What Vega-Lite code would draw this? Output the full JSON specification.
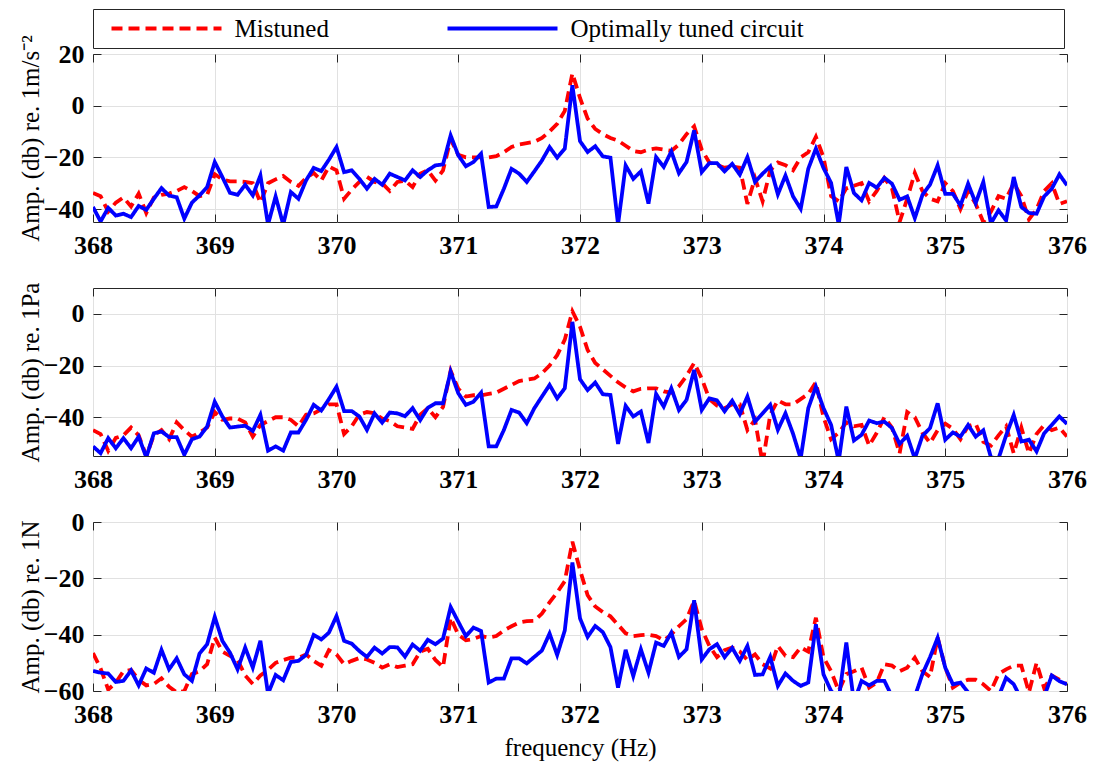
{
  "$schema": "https://vega.github.io/schema/vega-lite/v6.json",
  "background": "white",
  "padding": {"left": 17, "top": 8, "right": 10, "bottom": 10},
  "config": {
    "font": "Liberation Serif",
    "view": {"stroke": "#262626", "strokeWidth": 1},
    "style": {
      "guide-label": {"font": "Liberation Serif", "fontSize": 26, "fontWeight": "bold", "fill": "#000000"},
      "guide-title": {"font": "Liberation Serif", "fontSize": 25, "fontWeight": "normal", "fill": "#000000"}
    },
    "axis": {
      "labelFont": "Liberation Serif", "labelFontSize": 26, "labelFontWeight": "bold", "labelColor": "#000000",
      "titleFont": "Liberation Serif", "titleFontSize": 25, "titleFontWeight": "normal", "titleColor": "#000000",
      "gridColor": "#e1e1e1", "gridWidth": 1,
      "tickColor": "#262626", "tickWidth": 1, "tickSize": -8,
      "domain": false, "labelFlush": false, "labelOverlap": false
    },
    "line": {"strokeWidth": 3.8}
  },
  "datasets": {
    "accel": [
      {"f":368,"m":-33.8,"o":-39.2},{"f":368.0625,"m":-35,"o":-44.8},{"f":368.125,"m":-41,"o":-39.5},{"f":368.1875,"m":-37.5,"o":-42.5},
      {"f":368.25,"m":-35.5,"o":-41.8},{"f":368.3125,"m":-39,"o":-43.1},{"f":368.375,"m":-34,"o":-38.8},{"f":368.4375,"m":-41.5,"o":-40.3},
      {"f":368.5,"m":-35.5,"o":-36},{"f":368.5625,"m":-34.5,"o":-31.9},{"f":368.625,"m":-34,"o":-34.8},{"f":368.6875,"m":-33,"o":-35.4},
      {"f":368.75,"m":-31.5,"o":-43.7},{"f":368.8125,"m":-33,"o":-37.5},{"f":368.875,"m":-35,"o":-34.7},{"f":368.9375,"m":-34.5,"o":-31.5},
      {"f":369,"m":-26.5,"o":-21.8},{"f":369.0625,"m":-28.5,"o":-27.6},{"f":369.125,"m":-29.3,"o":-33.7},{"f":369.1875,"m":-29.3,"o":-34.5},
      {"f":369.25,"m":-29.5,"o":-30.6},{"f":369.3125,"m":-30,"o":-34.7},{"f":369.375,"m":-37.5,"o":-27},{"f":369.4375,"m":-30,"o":-46},
      {"f":369.5,"m":-28.5,"o":-35.1},{"f":369.5625,"m":-27.2,"o":-46},{"f":369.625,"m":-29.5,"o":-33.4},{"f":369.6875,"m":-31,"o":-36},
      {"f":369.75,"m":-28,"o":-28.9},{"f":369.8125,"m":-26,"o":-24.1},{"f":369.875,"m":-29,"o":-25.3},{"f":369.9375,"m":-23.5,"o":-20.9},
      {"f":370,"m":-25,"o":-16},{"f":370.0625,"m":-36,"o":-25.7},{"f":370.125,"m":-32.5,"o":-25},{"f":370.1875,"m":-29.5,"o":-28.3},
      {"f":370.25,"m":-27.5,"o":-32.1},{"f":370.3125,"m":-29.5,"o":-28.3},{"f":370.375,"m":-30,"o":-30.6},{"f":370.4375,"m":-33,"o":-26.3},
      {"f":370.5,"m":-29.5,"o":-27.6},{"f":370.5625,"m":-29,"o":-28.9},{"f":370.625,"m":-31.5,"o":-25},{"f":370.6875,"m":-26.3,"o":-27.6},
      {"f":370.75,"m":-25,"o":-25},{"f":370.8125,"m":-29,"o":-23.1},{"f":370.875,"m":-25,"o":-22.7},{"f":370.9375,"m":-13,"o":-11.5},
      {"f":371,"m":-19,"o":-19.2},{"f":371.0625,"m":-20,"o":-23.4},{"f":371.125,"m":-20,"o":-21.8},{"f":371.1875,"m":-20,"o":-18.6},
      {"f":371.25,"m":-20,"o":-39.2},{"f":371.3125,"m":-19.5,"o":-39},{"f":371.375,"m":-18,"o":-32.1},{"f":371.4375,"m":-16,"o":-24.4},
      {"f":371.5,"m":-15,"o":-26.3},{"f":371.5625,"m":-14.5,"o":-29.5},{"f":371.625,"m":-14,"o":-25.4},{"f":371.6875,"m":-12.5,"o":-21.2},
      {"f":371.75,"m":-10,"o":-16},{"f":371.8125,"m":-7,"o":-20.1},{"f":371.875,"m":-2,"o":-16.6},{"f":371.9375,"m":12.5,"o":7.9},
      {"f":372,"m":3,"o":-13.7},{"f":372.0625,"m":-5,"o":-17.9},{"f":372.125,"m":-9,"o":-15.7},{"f":372.1875,"m":-11,"o":-19.6},
      {"f":372.25,"m":-12.5,"o":-20.1},{"f":372.3125,"m":-13.5,"o":-46},{"f":372.375,"m":-15.5,"o":-23.1},{"f":372.4375,"m":-17.5,"o":-28.3},
      {"f":372.5,"m":-18,"o":-25.4},{"f":372.5625,"m":-17,"o":-37.9},{"f":372.625,"m":-16.5,"o":-19.9},{"f":372.6875,"m":-17,"o":-23.7},
      {"f":372.75,"m":-17.5,"o":-17.7},{"f":372.8125,"m":-15,"o":-26.1},{"f":372.875,"m":-11,"o":-21.8},{"f":372.9375,"m":-8,"o":-9.5},
      {"f":373,"m":-17,"o":-25.7},{"f":373.0625,"m":-22,"o":-22.2},{"f":373.125,"m":-23,"o":-22.2},{"f":373.1875,"m":-24,"o":-25.4},
      {"f":373.25,"m":-23.5,"o":-22.5},{"f":373.3125,"m":-24,"o":-26.7},{"f":373.375,"m":-38,"o":-19.9},{"f":373.4375,"m":-28,"o":-29.5},
      {"f":373.5,"m":-37,"o":-26.3},{"f":373.5625,"m":-25,"o":-23.5},{"f":373.625,"m":-22,"o":-34.3},{"f":373.6875,"m":-23,"o":-27},
      {"f":373.75,"m":-25,"o":-35.1},{"f":373.8125,"m":-20,"o":-39.9},{"f":373.875,"m":-18,"o":-24.4},{"f":373.9375,"m":-12,"o":-16.6},
      {"f":374,"m":-20,"o":-24.1},{"f":374.0625,"m":-35,"o":-29.9},{"f":374.125,"m":-37,"o":-46},{"f":374.1875,"m":-32,"o":-23.7},
      {"f":374.25,"m":-31,"o":-33.8},{"f":374.3125,"m":-30,"o":-36.6},{"f":374.375,"m":-37,"o":-29.9},{"f":374.4375,"m":-33,"o":-31.7},
      {"f":374.5,"m":-28,"o":-27.9},{"f":374.5625,"m":-32,"o":-30.2},{"f":374.625,"m":-45,"o":-36.4},{"f":374.6875,"m":-36,"o":-35.1},
      {"f":374.75,"m":-26,"o":-43.5},{"f":374.8125,"m":-33,"o":-34.5},{"f":374.875,"m":-36,"o":-30.5},{"f":374.9375,"m":-37,"o":-23.1},
      {"f":375,"m":-30,"o":-34.1},{"f":375.0625,"m":-33,"o":-34.1},{"f":375.125,"m":-40,"o":-38.6},{"f":375.1875,"m":-33,"o":-30.2},
      {"f":375.25,"m":-38,"o":-37.7},{"f":375.3125,"m":-45,"o":-29.5},{"f":375.375,"m":-41,"o":-45.5},{"f":375.4375,"m":-35,"o":-40.5},
      {"f":375.5,"m":-36,"o":-44.4},{"f":375.5625,"m":-30,"o":-27.6},{"f":375.625,"m":-35,"o":-39.2},{"f":375.6875,"m":-44,"o":-41.5},
      {"f":375.75,"m":-40,"o":-41.8},{"f":375.8125,"m":-33,"o":-35.1},{"f":375.875,"m":-30,"o":-32.1},{"f":375.9375,"m":-38,"o":-26.6},
      {"f":376,"m":-37,"o":-30.8}
    ],
    "pressure": [
      {"f":368,"m":-45,"o":-51.3},{"f":368.0625,"m":-46.5,"o":-53.9},{"f":368.125,"m":-53,"o":-48.1},{"f":368.1875,"m":-48,"o":-52},
      {"f":368.25,"m":-47,"o":-48.1},{"f":368.3125,"m":-44,"o":-52},{"f":368.375,"m":-47,"o":-47.5},{"f":368.4375,"m":-55,"o":-55.5},
      {"f":368.5,"m":-47,"o":-46.2},{"f":368.5625,"m":-45,"o":-45.5},{"f":368.625,"m":-48.5,"o":-47.7},{"f":368.6875,"m":-42,"o":-47.7},
      {"f":368.75,"m":-45,"o":-54.5},{"f":368.8125,"m":-47.5,"o":-48.5},{"f":368.875,"m":-46,"o":-47.5},{"f":368.9375,"m":-44,"o":-43.6},
      {"f":369,"m":-38,"o":-34},{"f":369.0625,"m":-41,"o":-39.7},{"f":369.125,"m":-40.5,"o":-44},{"f":369.1875,"m":-40.5,"o":-43.6},
      {"f":369.25,"m":-42,"o":-43.3},{"f":369.3125,"m":-47.5,"o":-45.3},{"f":369.375,"m":-43,"o":-39.1},{"f":369.4375,"m":-41.5,"o":-52.9},
      {"f":369.5,"m":-40,"o":-51.3},{"f":369.5625,"m":-40,"o":-52.9},{"f":369.625,"m":-41,"o":-45.9},{"f":369.6875,"m":-43.5,"o":-45.9},
      {"f":369.75,"m":-39,"o":-41},{"f":369.8125,"m":-38.5,"o":-35.2},{"f":369.875,"m":-37,"o":-37.4},{"f":369.9375,"m":-35,"o":-33},
      {"f":370,"m":-35,"o":-28.2},{"f":370.0625,"m":-46.5,"o":-37.6},{"f":370.125,"m":-43.5,"o":-37.6},{"f":370.1875,"m":-39,"o":-39.7},
      {"f":370.25,"m":-38,"o":-44.9},{"f":370.3125,"m":-38.5,"o":-38.5},{"f":370.375,"m":-40.5,"o":-42.1},{"f":370.4375,"m":-41.5,"o":-38.2},
      {"f":370.5,"m":-43.5,"o":-38.5},{"f":370.5625,"m":-44,"o":-39.6},{"f":370.625,"m":-44.5,"o":-36.5},{"f":370.6875,"m":-39,"o":-41.1},
      {"f":370.75,"m":-36.5,"o":-36.4},{"f":370.8125,"m":-40,"o":-34.6},{"f":370.875,"m":-36,"o":-34.6},{"f":370.9375,"m":-22,"o":-22.4},
      {"f":371,"m":-29,"o":-30.7},{"f":371.0625,"m":-32,"o":-35.2},{"f":371.125,"m":-31.5,"o":-34},{"f":371.1875,"m":-31.5,"o":-30.5},
      {"f":371.25,"m":-31,"o":-51.3},{"f":371.3125,"m":-30.5,"o":-51.3},{"f":371.375,"m":-29,"o":-44.9},{"f":371.4375,"m":-27.5,"o":-37.2},
      {"f":371.5,"m":-26,"o":-38.2},{"f":371.5625,"m":-25.5,"o":-42.3},{"f":371.625,"m":-25,"o":-36.5},{"f":371.6875,"m":-23,"o":-32},
      {"f":371.75,"m":-20,"o":-27.5},{"f":371.8125,"m":-16,"o":-32.7},{"f":371.875,"m":-10,"o":-28.8},{"f":371.9375,"m":1,"o":-3.1},
      {"f":372,"m":-5,"o":-25.3},{"f":372.0625,"m":-14,"o":-29.5},{"f":372.125,"m":-19,"o":-26.6},{"f":372.1875,"m":-21.5,"o":-31.1},
      {"f":372.25,"m":-24,"o":-31.4},{"f":372.3125,"m":-26.5,"o":-50.3},{"f":372.375,"m":-28.5,"o":-35.6},{"f":372.4375,"m":-30,"o":-39.7},
      {"f":372.5,"m":-29,"o":-37.8},{"f":372.5625,"m":-28.8,"o":-50},{"f":372.625,"m":-28.8,"o":-31},{"f":372.6875,"m":-30,"o":-35.9},
      {"f":372.75,"m":-30.5,"o":-28.8},{"f":372.8125,"m":-28,"o":-37.2},{"f":372.875,"m":-24,"o":-33.3},{"f":372.9375,"m":-19,"o":-21.7},
      {"f":373,"m":-25,"o":-37.2},{"f":373.0625,"m":-33,"o":-32.7},{"f":373.125,"m":-35.5,"o":-33.5},{"f":373.1875,"m":-36.5,"o":-37.7},
      {"f":373.25,"m":-35,"o":-33.6},{"f":373.3125,"m":-35,"o":-38.8},{"f":373.375,"m":-45,"o":-32},{"f":373.4375,"m":-41,"o":-41.7},
      {"f":373.5,"m":-58,"o":-38.5},{"f":373.5625,"m":-39,"o":-35.2},{"f":373.625,"m":-33.5,"o":-44.9},{"f":373.6875,"m":-35,"o":-38.5},
      {"f":373.75,"m":-35,"o":-46.4},{"f":373.8125,"m":-33,"o":-56},{"f":373.875,"m":-31,"o":-36.5},{"f":373.9375,"m":-26.5,"o":-28.2},
      {"f":374,"m":-40,"o":-36.5},{"f":374.0625,"m":-48.5,"o":-43},{"f":374.125,"m":-46,"o":-57},{"f":374.1875,"m":-42,"o":-35.9},
      {"f":374.25,"m":-43.5,"o":-49},{"f":374.3125,"m":-43,"o":-46.8},{"f":374.375,"m":-51,"o":-41.3},{"f":374.4375,"m":-46,"o":-42.3},
      {"f":374.5,"m":-40,"o":-41.7},{"f":374.5625,"m":-44,"o":-44.2},{"f":374.625,"m":-54,"o":-50.3},{"f":374.6875,"m":-38,"o":-47.2},
      {"f":374.75,"m":-40,"o":-56},{"f":374.8125,"m":-46,"o":-47.2},{"f":374.875,"m":-50,"o":-44.2},{"f":374.9375,"m":-45,"o":-34.6},
      {"f":375,"m":-42.5,"o":-48.7},{"f":375.0625,"m":-44.5,"o":-45.9},{"f":375.125,"m":-48.5,"o":-47.5},{"f":375.1875,"m":-43.5,"o":-43},
      {"f":375.25,"m":-42.5,"o":-47.5},{"f":375.3125,"m":-49.5,"o":-45.1},{"f":375.375,"m":-51,"o":-55.5},{"f":375.4375,"m":-47,"o":-56},
      {"f":375.5,"m":-43.5,"o":-47},{"f":375.5625,"m":-54,"o":-39.1},{"f":375.625,"m":-44,"o":-49.4},{"f":375.6875,"m":-54,"o":-48.7},
      {"f":375.75,"m":-46.5,"o":-53.2},{"f":375.8125,"m":-43,"o":-46.2},{"f":375.875,"m":-45,"o":-43},{"f":375.9375,"m":-44,"o":-39.7},
      {"f":376,"m":-47.5,"o":-42.6}
    ],
    "force": [
      {"f":368,"m":-46.5,"o":-52.9},{"f":368.0625,"m":-52,"o":-53.5},{"f":368.125,"m":-59.5,"o":-53.8},{"f":368.1875,"m":-57,"o":-56.8},
      {"f":368.25,"m":-53,"o":-56.4},{"f":368.3125,"m":-52.5,"o":-52.7},{"f":368.375,"m":-56,"o":-58},{"f":368.4375,"m":-58,"o":-52},
      {"f":368.5,"m":-57.5,"o":-53.5},{"f":368.5625,"m":-55.5,"o":-45.4},{"f":368.625,"m":-58.5,"o":-52.3},{"f":368.6875,"m":-60.5,"o":-48.4},
      {"f":368.75,"m":-60,"o":-54.1},{"f":368.8125,"m":-54,"o":-56.4},{"f":368.875,"m":-53,"o":-46.7},{"f":368.9375,"m":-50.5,"o":-43.4},
      {"f":369,"m":-41,"o":-33.7},{"f":369.0625,"m":-46,"o":-42.2},{"f":369.125,"m":-47.5,"o":-46.4},{"f":369.1875,"m":-49,"o":-52.3},
      {"f":369.25,"m":-54.5,"o":-44.6},{"f":369.3125,"m":-57.5,"o":-51.7},{"f":369.375,"m":-54.5,"o":-42.2},{"f":369.4375,"m":-52.5,"o":-61},
      {"f":369.5,"m":-50,"o":-54.3},{"f":369.5625,"m":-49,"o":-56.2},{"f":369.625,"m":-48.2,"o":-49.7},{"f":369.6875,"m":-48.2,"o":-49.3},
      {"f":369.75,"m":-47,"o":-47.2},{"f":369.8125,"m":-49.3,"o":-40.1},{"f":369.875,"m":-51,"o":-41.7},{"f":369.9375,"m":-45.5,"o":-39.3},
      {"f":370,"m":-47,"o":-33.4},{"f":370.0625,"m":-50.5,"o":-42.2},{"f":370.125,"m":-49.3,"o":-43.2},{"f":370.1875,"m":-48.3,"o":-45.8},
      {"f":370.25,"m":-48.8,"o":-47.9},{"f":370.3125,"m":-50,"o":-44.6},{"f":370.375,"m":-51.7,"o":-46.7},{"f":370.4375,"m":-50.5,"o":-44.4},
      {"f":370.5,"m":-51.5,"o":-44.5},{"f":370.5625,"m":-51,"o":-47.8},{"f":370.625,"m":-50.5,"o":-43.5},{"f":370.6875,"m":-46,"o":-45.7},
      {"f":370.75,"m":-45,"o":-41.8},{"f":370.8125,"m":-49,"o":-43.4},{"f":370.875,"m":-51.5,"o":-41.4},{"f":370.9375,"m":-34,"o":-30.2},
      {"f":371,"m":-40,"o":-35.4},{"f":371.0625,"m":-42,"o":-40.5},{"f":371.125,"m":-41.5,"o":-37.5},{"f":371.1875,"m":-40.5,"o":-38.7},
      {"f":371.25,"m":-41,"o":-57},{"f":371.3125,"m":-40.5,"o":-55.6},{"f":371.375,"m":-38.5,"o":-55.6},{"f":371.4375,"m":-37,"o":-48.4},
      {"f":371.5,"m":-35.7,"o":-48.4},{"f":371.5625,"m":-35.2,"o":-50.2},{"f":371.625,"m":-35.1,"o":-47.9},{"f":371.6875,"m":-32.5,"o":-45.6},
      {"f":371.75,"m":-28.5,"o":-39.6},{"f":371.8125,"m":-25,"o":-47.2},{"f":371.875,"m":-21,"o":-38.5},{"f":371.9375,"m":-7,"o":-14.4},
      {"f":372,"m":-17,"o":-34.2},{"f":372.0625,"m":-26,"o":-40.8},{"f":372.125,"m":-30,"o":-36.9},{"f":372.1875,"m":-32,"o":-39.1},
      {"f":372.25,"m":-33.5,"o":-44.4},{"f":372.3125,"m":-36.5,"o":-58.8},{"f":372.375,"m":-39.5,"o":-45.4},{"f":372.4375,"m":-40.5,"o":-54.7},
      {"f":372.5,"m":-40.2,"o":-45.2},{"f":372.5625,"m":-40,"o":-53.5},{"f":372.625,"m":-40.5,"o":-42.8},{"f":372.6875,"m":-42,"o":-44},
      {"f":372.75,"m":-40,"o":-39.3},{"f":372.8125,"m":-37,"o":-47.9},{"f":372.875,"m":-34.5,"o":-45.2},{"f":372.9375,"m":-28,"o":-27.8},
      {"f":373,"m":-38,"o":-48.8},{"f":373.0625,"m":-44,"o":-45.2},{"f":373.125,"m":-48,"o":-43.4},{"f":373.1875,"m":-45.5,"o":-48},
      {"f":373.25,"m":-44.6,"o":-44.7},{"f":373.3125,"m":-46,"o":-49.3},{"f":373.375,"m":-49,"o":-44},{"f":373.4375,"m":-47,"o":-54.3},
      {"f":373.5,"m":-50.5,"o":-54.1},{"f":373.5625,"m":-52,"o":-47.9},{"f":373.625,"m":-44,"o":-58.2},{"f":373.6875,"m":-47.5,"o":-53.8},
      {"f":373.75,"m":-48,"o":-56.4},{"f":373.8125,"m":-44.5,"o":-58.2},{"f":373.875,"m":-46,"o":-57},{"f":373.9375,"m":-34,"o":-36.3},
      {"f":374,"m":-48,"o":-54.1},{"f":374.0625,"m":-53,"o":-60},{"f":374.125,"m":-60,"o":-63},{"f":374.1875,"m":-54,"o":-42.8},
      {"f":374.25,"m":-53,"o":-64},{"f":374.3125,"m":-51.7,"o":-56.4},{"f":374.375,"m":-58.8,"o":-58},{"f":374.4375,"m":-57,"o":-56.4},
      {"f":374.5,"m":-50.5,"o":-56.4},{"f":374.5625,"m":-51,"o":-62},{"f":374.625,"m":-53,"o":-64},{"f":374.6875,"m":-51.7,"o":-65},
      {"f":374.75,"m":-48.2,"o":-62},{"f":374.8125,"m":-53,"o":-54},{"f":374.875,"m":-55,"o":-48},{"f":374.9375,"m":-41,"o":-41.1},
      {"f":375,"m":-51.7,"o":-51.7},{"f":375.0625,"m":-58.8,"o":-57.6},{"f":375.125,"m":-57,"o":-57},{"f":375.1875,"m":-56,"o":-60.5},
      {"f":375.25,"m":-56,"o":-61.5},{"f":375.3125,"m":-57.6,"o":-62},{"f":375.375,"m":-60,"o":-63},{"f":375.4375,"m":-54,"o":-62},
      {"f":375.5,"m":-52.3,"o":-55.3},{"f":375.5625,"m":-51,"o":-57.6},{"f":375.625,"m":-51,"o":-63},{"f":375.6875,"m":-60.5,"o":-63},
      {"f":375.75,"m":-50,"o":-64},{"f":375.8125,"m":-59,"o":-62},{"f":375.875,"m":-54.5,"o":-54.5},{"f":375.9375,"m":-56,"o":-56.5},
      {"f":376,"m":-57.6,"o":-57.6}
    ]
  },
  "bounds": "flush",
  "spacing": 66,
  "resolve": {
    "scale": {"color": "independent", "strokeDash": "independent"},
    "legend": {"color": "independent", "strokeDash": "independent"}
  },
  "vconcat": [
    {
      "width": 974, "height": 168,
      "data": {"name": "accel"},
      "transform": [{"fold": ["m", "o"], "as": ["series", "amp"]}],
      "layer": [
        {
          "transform": [{"filter": "datum.series == 'm'"}],
          "mark": {"type": "line", "clip": true},
          "encoding": {
            "x": {"field": "f", "type": "quantitative", "scale": {"domain": [368, 376], "nice": false, "zero": false},
                  "axis": {"orient": "bottom", "values": [368, 369, 370, 371, 372, 373, 374, 375, 376], "format": "d", "grid": true, "labelPadding": 18, "title": null,
                           "labelFont": "Liberation Serif", "labelFontSize": 26, "labelFontWeight": "bold"}},
            "y": {"field": "amp", "type": "quantitative", "scale": {"domain": [-45, 20], "nice": false, "zero": false},
                  "axis": {"orient": "left", "values": [-40, -20, 0, 20], "grid": true, "labelPadding": 17, "titlePadding": 0, "title": "Amp. (db) re. 1m/s⁻²",
                           "labelFont": "Liberation Serif", "labelFontSize": 26, "labelFontWeight": "bold"}},
            "color": {"field": "series", "type": "nominal", "scale": {"domain": ["m", "o"], "range": ["#ff0000", "#0000ff"]},
                      "legend": {"orient": "none", "legendX": 0, "legendY": -45, "direction": "horizontal", "title": " ", "titleOrient": "right", "titlePadding": 254,
                                 "padding": 6.5, "strokeColor": "#262626", "fillColor": "white", "symbolType": "M-5,0H5", "symbolSize": 484, "symbolStrokeWidth": 3.8,
                                 "symbolOffset": 54, "labelOffset": 55, "labelFont": "Liberation Serif", "labelFontSize": 25, "labelFontWeight": "normal", "labelColor": "#000000", "labelLimit": 400,
                                 "columnPadding": 106, "labelExpr": "datum.value == 'm' ? 'Mistuned' : 'Optimally tuned circuit'"}},
            "strokeDash": {"field": "series", "type": "nominal", "scale": {"domain": ["m", "o"], "range": [[11, 6], [1, 0]]},
                      "legend": {"orient": "none", "legendX": 0, "legendY": -45, "direction": "horizontal", "title": " ", "titleOrient": "right", "titlePadding": 254,
                                 "padding": 6.5, "strokeColor": "#262626", "fillColor": "white", "symbolType": "M-5,0H5", "symbolSize": 484, "symbolStrokeWidth": 3.8,
                                 "symbolOffset": 54, "labelOffset": 55, "labelFont": "Liberation Serif", "labelFontSize": 25, "labelFontWeight": "normal", "labelColor": "#000000", "labelLimit": 400,
                                 "columnPadding": 106, "labelExpr": "datum.value == 'm' ? 'Mistuned' : 'Optimally tuned circuit'"}}
          }
        },
        {
          "transform": [{"filter": "datum.series == 'o'"}],
          "mark": {"type": "line", "clip": true},
          "encoding": {
            "x": {"field": "f", "type": "quantitative",
                  "axis": {"orient": "top", "values": [368, 369, 370, 371, 372, 373, 374, 375, 376], "labels": false, "grid": false, "title": null, "minExtent": 0}},
            "y": {"field": "amp", "type": "quantitative",
                  "axis": {"orient": "right", "values": [-40, -20, 0, 20], "labels": false, "grid": false, "title": null, "minExtent": 0}},
            "color": {"field": "series", "type": "nominal"},
            "strokeDash": {"field": "series", "type": "nominal"}
          }
        }
      ],
      "resolve": {"axis": {"x": "independent", "y": "independent"}}
    },
    {
      "width": 974, "height": 168,
      "data": {"name": "pressure"},
      "transform": [{"fold": ["m", "o"], "as": ["series", "amp"]}],
      "layer": [
        {
          "transform": [{"filter": "datum.series == 'm'"}],
          "mark": {"type": "line", "clip": true},
          "encoding": {
            "x": {"field": "f", "type": "quantitative", "scale": {"domain": [368, 376], "nice": false, "zero": false},
                  "axis": {"orient": "bottom", "values": [368, 369, 370, 371, 372, 373, 374, 375, 376], "format": "d", "grid": true, "labelPadding": 18, "title": null,
                           "labelFont": "Liberation Serif", "labelFontSize": 26, "labelFontWeight": "bold"}},
            "y": {"field": "amp", "type": "quantitative", "scale": {"domain": [-55, 10], "nice": false, "zero": false},
                  "axis": {"orient": "left", "values": [-40, -20, 0], "grid": true, "labelPadding": 17, "titlePadding": 0, "title": "Amp. (db) re. 1Pa",
                           "labelFont": "Liberation Serif", "labelFontSize": 26, "labelFontWeight": "bold"}},
            "color": {"field": "series", "type": "nominal", "scale": {"domain": ["m", "o"], "range": ["#ff0000", "#0000ff"]}, "legend": null},
            "strokeDash": {"field": "series", "type": "nominal", "scale": {"domain": ["m", "o"], "range": [[11, 6], [1, 0]]}, "legend": null}
          }
        },
        {
          "transform": [{"filter": "datum.series == 'o'"}],
          "mark": {"type": "line", "clip": true},
          "encoding": {
            "x": {"field": "f", "type": "quantitative",
                  "axis": {"orient": "top", "values": [368, 369, 370, 371, 372, 373, 374, 375, 376], "labels": false, "grid": false, "title": null, "minExtent": 0}},
            "y": {"field": "amp", "type": "quantitative",
                  "axis": {"orient": "right", "values": [-40, -20, 0], "labels": false, "grid": false, "title": null, "minExtent": 0}},
            "color": {"field": "series", "type": "nominal", "legend": null},
            "strokeDash": {"field": "series", "type": "nominal", "legend": null}
          }
        }
      ],
      "resolve": {"axis": {"x": "independent", "y": "independent"}}
    },
    {
      "width": 974, "height": 169,
      "data": {"name": "force"},
      "transform": [{"fold": ["m", "o"], "as": ["series", "amp"]}],
      "layer": [
        {
          "transform": [{"filter": "datum.series == 'm'"}],
          "mark": {"type": "line", "clip": true},
          "encoding": {
            "x": {"field": "f", "type": "quantitative", "scale": {"domain": [368, 376], "nice": false, "zero": false},
                  "axis": {"orient": "bottom", "values": [368, 369, 370, 371, 372, 373, 374, 375, 376], "format": "d", "grid": true, "labelPadding": 18, "titlePadding": 8, "title": "frequency (Hz)",
                           "labelFont": "Liberation Serif", "labelFontSize": 26, "labelFontWeight": "bold"}},
            "y": {"field": "amp", "type": "quantitative", "scale": {"domain": [-60, 0], "nice": false, "zero": false},
                  "axis": {"orient": "left", "values": [-60, -40, -20, 0], "grid": true, "labelPadding": 17, "titlePadding": 0, "title": "Amp. (db) re. 1N",
                           "labelFont": "Liberation Serif", "labelFontSize": 26, "labelFontWeight": "bold"}},
            "color": {"field": "series", "type": "nominal", "scale": {"domain": ["m", "o"], "range": ["#ff0000", "#0000ff"]}, "legend": null},
            "strokeDash": {"field": "series", "type": "nominal", "scale": {"domain": ["m", "o"], "range": [[11, 6], [1, 0]]}, "legend": null}
          }
        },
        {
          "transform": [{"filter": "datum.series == 'o'"}],
          "mark": {"type": "line", "clip": true},
          "encoding": {
            "x": {"field": "f", "type": "quantitative",
                  "axis": {"orient": "top", "values": [368, 369, 370, 371, 372, 373, 374, 375, 376], "labels": false, "grid": false, "title": null, "minExtent": 0}},
            "y": {"field": "amp", "type": "quantitative",
                  "axis": {"orient": "right", "values": [-60, -40, -20, 0], "labels": false, "grid": false, "title": null, "minExtent": 0}},
            "color": {"field": "series", "type": "nominal", "legend": null},
            "strokeDash": {"field": "series", "type": "nominal", "legend": null}
          }
        }
      ],
      "resolve": {"axis": {"x": "independent", "y": "independent"}}
    }
  ]
}
